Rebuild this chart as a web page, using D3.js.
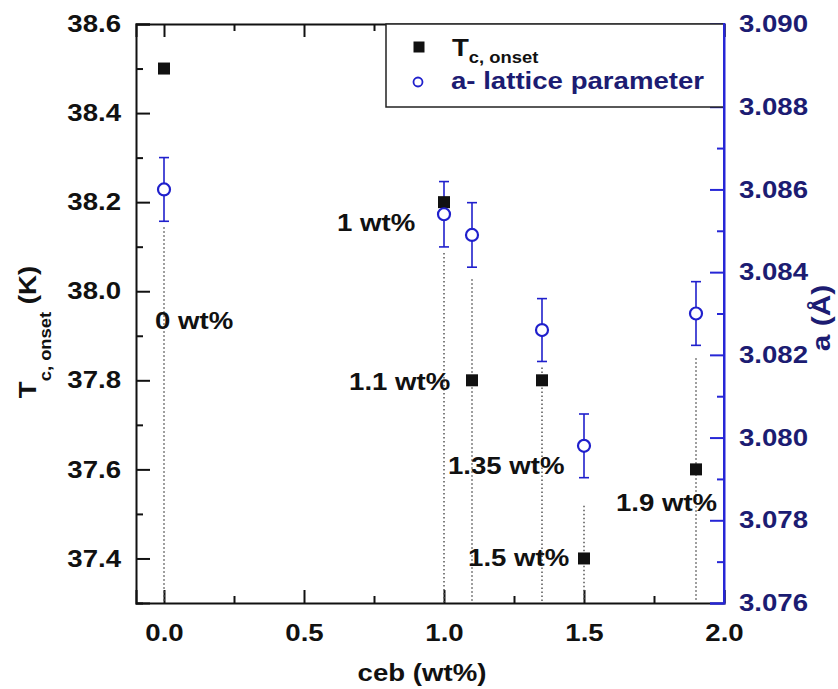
<!DOCTYPE html>
<html>
<head>
<meta charset="utf-8">
<script src="https://cdn.jsdelivr.net/npm/d3@7/dist/d3.min.js"></script>
<style>
  html, body { margin: 0; padding: 0; background: #ffffff; }
  svg text { font-family: "Liberation Sans", Arial, sans-serif; font-weight: bold; }
</style>
</head>
<body>
<svg id="chart" width="838" height="689"></svg>
<script>
// ---- data ----
const ceb = [0, 1.0, 1.1, 1.35, 1.5, 1.9];
const tcOnset = [38.5, 38.2, 37.8, 37.8, 37.4, 37.6];
const latticeA = [3.0860, 3.0854, 3.0849, 3.0826, 3.0798, 3.0830];
const latticeErr = [0.00077, 0.00079, 0.00078, 0.00076, 0.00077, 0.00077];
const sampleLabels = ["0 wt%", "1 wt%", "1.1 wt%", "1.35 wt%", "1.5 wt%", "1.9 wt%"];
const xTicks = [0.0, 0.5, 1.0, 1.5, 2.0];
const xMinorTicks = [0.25, 0.75, 1.25, 1.75];
const yLeftTicks = [37.4, 37.6, 37.8, 38.0, 38.2, 38.4, 38.6];
const yLeftMinorTicks = [37.3, 37.5, 37.7, 37.9, 38.1, 38.3, 38.5];
const yRightTicks = [3.076, 3.078, 3.080, 3.082, 3.084, 3.086, 3.088, 3.090];
const yRightMinorTicks = [3.077, 3.079, 3.081, 3.083, 3.085, 3.087, 3.089];

// ---- layout ----
const svg = d3.select("#chart");
const L = 136, R = 724, T = 24, B = 603;
const SX = 1.15;               // horizontal glyph widening
const BLACK = "#111111", AXBLUE = "#2626d6", NAVY = "#1c1c72", MARK = "#2020cc";

const x = d3.scaleLinear().domain([-0.1, 2.0]).range([L, R]);
const yL = d3.scaleLinear().domain([37.3, 38.6]).range([B, T]);
const yR = d3.scaleLinear().domain([3.076, 3.090]).range([B, T]);

// label anchors (left edge, vertical centre) in data units of x / left axis
const labelAnchor = [[-0.032, 37.935], [0.618, 38.155], [0.661, 37.798],
                     [1.014, 37.610], [1.086, 37.403], [1.614, 37.525]];
// extra gap (px) between error bar bottom and start of dotted drop line
const dropGap = [6, 6, 12, 6, 28, 13];

svg.append("rect").attr("width", 838).attr("height", 689).attr("fill", "#ffffff");

function styleAxis(g, color) {
  g.select(".domain").attr("stroke", color).attr("stroke-width", 2);
  g.selectAll(".tick line").attr("stroke", color).attr("stroke-width", 2);
}

// bottom axis
const gB = svg.append("g").attr("transform", `translate(0,${B})`)
  .call(d3.axisBottom(x).tickValues(xTicks).tickSize(-13).tickPadding(21).tickFormat(d3.format(".1f")));
styleAxis(gB, BLACK);
gB.selectAll(".tick text").attr("fill", BLACK).attr("font-size", 24)
  .attr("transform", `scale(${SX},1)`).attr("x", 0);
const gBm = svg.append("g").attr("transform", `translate(0,${B})`)
  .call(d3.axisBottom(x).tickValues(xMinorTicks).tickSize(-7).tickFormat(""));
styleAxis(gBm, BLACK); gBm.select(".domain").remove();

// top axis
const gT = svg.append("g").attr("transform", `translate(0,${T})`)
  .call(d3.axisTop(x).tickValues(xTicks).tickSize(-13).tickFormat(""));
styleAxis(gT, BLACK);
const gTm = svg.append("g").attr("transform", `translate(0,${T})`)
  .call(d3.axisTop(x).tickValues(xMinorTicks).tickSize(-7).tickFormat(""));
styleAxis(gTm, BLACK); gTm.select(".domain").remove();

// left axis
const gL = svg.append("g").attr("transform", `translate(${L},0)`)
  .call(d3.axisLeft(yL).tickValues(yLeftTicks).tickSize(-14).tickPadding(15).tickFormat(d3.format(".1f")));
styleAxis(gL, BLACK);
gL.selectAll(".tick text").attr("fill", BLACK).attr("font-size", 24)
  .attr("x", -15 / SX).attr("transform", `scale(${SX},1)`);
const gLm = svg.append("g").attr("transform", `translate(${L},0)`)
  .call(d3.axisLeft(yL).tickValues(yLeftMinorTicks).tickSize(-7).tickFormat(""));
styleAxis(gLm, BLACK); gLm.select(".domain").remove();

// dotted drop lines
svg.append("g").selectAll("line").data(ceb).join("line")
  .attr("x1", d => x(d)).attr("x2", d => x(d))
  .attr("y1", (d, i) => yR(latticeA[i] - latticeErr[i]) + dropGap[i])
  .attr("y2", B - 1)
  .attr("stroke", "#555").attr("stroke-width", 1.5).attr("stroke-dasharray", "1.5,2.5");

// right axis (blue)
const gR = svg.append("g").attr("transform", `translate(${R},0)`)
  .call(d3.axisRight(yR).tickValues(yRightTicks).tickSize(-14).tickPadding(15).tickFormat(d3.format(".3f")));
styleAxis(gR, AXBLUE);
gR.selectAll(".tick text").attr("fill", NAVY).attr("font-size", 24)
  .attr("x", 15 / SX).attr("transform", `scale(${SX},1)`);
const gRm = svg.append("g").attr("transform", `translate(${R},0)`)
  .call(d3.axisRight(yR).tickValues(yRightMinorTicks).tickSize(-7).tickFormat(""));
styleAxis(gRm, AXBLUE); gRm.select(".domain").remove();

// error bars
const eb = svg.append("g").attr("stroke", MARK).attr("stroke-width", 1.6);
ceb.forEach((c, i) => {
  const cx = x(c), y1 = yR(latticeA[i] + latticeErr[i]), y2 = yR(latticeA[i] - latticeErr[i]);
  eb.append("line").attr("x1", cx).attr("x2", cx).attr("y1", y1).attr("y2", y2);
  eb.append("line").attr("x1", cx - 5).attr("x2", cx + 5).attr("y1", y1).attr("y2", y1);
  eb.append("line").attr("x1", cx - 5).attr("x2", cx + 5).attr("y1", y2).attr("y2", y2);
});

// Tc squares
svg.append("g").selectAll("rect").data(ceb).join("rect")
  .attr("x", d => x(d) - 6).attr("y", (d, i) => yL(tcOnset[i]) - 6)
  .attr("width", 12).attr("height", 12).attr("fill", BLACK);

// lattice circles
svg.append("g").selectAll("circle").data(ceb).join("circle")
  .attr("cx", d => x(d)).attr("cy", (d, i) => yR(latticeA[i]))
  .attr("r", 6).attr("fill", "#ffffff").attr("stroke", MARK).attr("stroke-width", 2.2);

// sample labels
svg.append("g").selectAll("text").data(sampleLabels).join("text")
  .attr("transform", (d, i) => `translate(${x(labelAnchor[i][0])},${yL(labelAnchor[i][1])}) scale(${SX},1)`)
  .attr("dy", "0.36em").attr("font-size", 24).attr("fill", BLACK).text(d => d);

// axis titles
svg.append("text").attr("transform", `translate(422,681) scale(${SX},1)`)
  .attr("text-anchor", "middle").attr("font-size", 24).attr("fill", BLACK).text("ceb (wt%)");

const yt = svg.append("text").attr("transform", `translate(36,332) rotate(-90) scale(${SX},1)`)
  .attr("text-anchor", "middle").attr("fill", BLACK).attr("font-size", 24);
yt.append("tspan").text("T");
yt.append("tspan").attr("font-size", 16).attr("dy", 15).text("c, onset");
yt.append("tspan").attr("dy", -15).text(" (K)");

svg.append("text").attr("transform", `translate(830,318) rotate(-90) scale(${SX},1)`)
  .attr("text-anchor", "middle").attr("font-size", 26).attr("fill", NAVY).text("a (Å)");

// legend
const lg = svg.append("g");
lg.append("rect").attr("x", 386).attr("y", T).attr("width", R - 386).attr("height", 83)
  .attr("fill", "#ffffff").attr("stroke", "#222").attr("stroke-width", 1.5);
lg.append("rect").attr("x", 419 - 5.5).attr("y", 47 - 5.5).attr("width", 11).attr("height", 11).attr("fill", BLACK);
lg.append("circle").attr("cx", 418).attr("cy", 82).attr("r", 4.5).attr("fill", "#fff")
  .attr("stroke", MARK).attr("stroke-width", 1.8);
const l1 = lg.append("text").attr("transform", `translate(452,56) scale(${SX},1)`)
  .attr("font-size", 24).attr("fill", BLACK);
l1.append("tspan").text("T");
l1.append("tspan").attr("font-size", 16).attr("dy", 7).text("c, onset");
lg.append("text").attr("transform", `translate(451,89) scale(${SX},1)`)
  .attr("font-size", 24).attr("fill", NAVY).text("a- lattice parameter");

// redraw right axis line on top of legend edge
svg.append("line").attr("x1", R).attr("x2", R).attr("y1", T - 1).attr("y2", B + 1)
  .attr("stroke", AXBLUE).attr("stroke-width", 2);
</script>
</body>
</html>
